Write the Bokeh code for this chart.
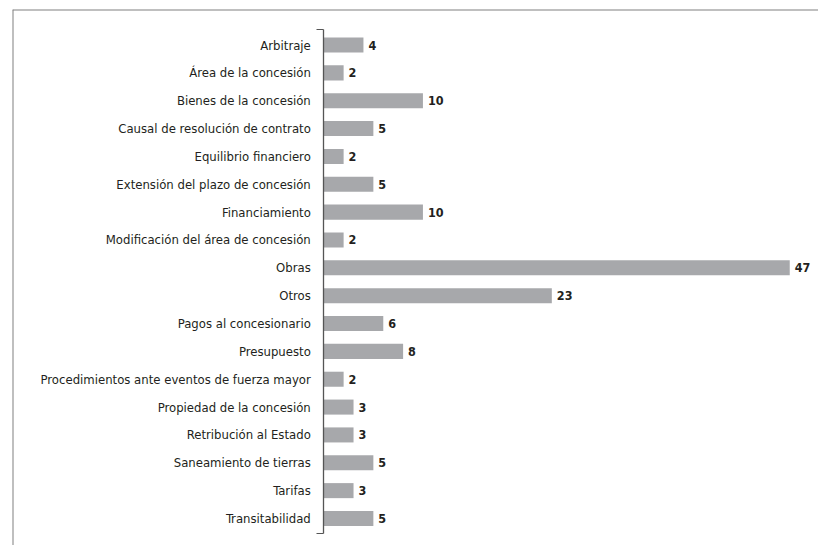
from bokeh.plotting import figure
from bokeh.models import ColumnDataSource, Range1d, Span, FixedTicker
from bokeh.embed import file_html
from bokeh.resources import INLINE
from bokeh.core.properties import value

categories = [
    "Arbitraje",
    "Área de la concesión",
    "Bienes de la concesión",
    "Causal de resolución de contrato",
    "Equilibrio financiero",
    "Extensión del plazo de concesión",
    "Financiamiento",
    "Modificación del área de concesión",
    "Obras",
    "Otros",
    "Pagos al concesionario",
    "Presupuesto",
    "Procedimientos ante eventos de fuerza mayor",
    "Propiedad de la concesión",
    "Retribución al Estado",
    "Saneamiento de tierras",
    "Tarifas",
    "Transitabilidad",
]
counts = [4, 2, 10, 5, 2, 5, 10, 2, 47, 23, 6, 8, 2, 3, 3, 5, 3, 5]

FONT = "'DejaVu Sans Condensed', 'Liberation Sans', sans-serif"

pos = list(range(len(categories)))
src = ColumnDataSource(dict(y=pos, v=counts, lab=[str(c) for c in counts]))

W, H = 818, 545
p = figure(width=W, height=H, output_backend="svg", toolbar_location=None,
           x_range=Range1d(-31.4, 49.9), y_range=Range1d(17.97, -1.275),
           min_border_left=12, min_border_top=9, min_border_right=0, min_border_bottom=0)
p.outline_line_color = None
p.xgrid.visible = False
p.ygrid.visible = False
p.xaxis.visible = False

p.hbar(y="y", left=0, right="v", height=0.54, source=src,
       fill_color="#a7a8ab", line_color=None)
p.text(x="v", y="y", text="lab", source=src, x_offset=5,
       text_font=value(FONT), text_font_style="bold",
       text_font_size="12.5px", text_color="#231f20", text_baseline="middle")

ax = p.yaxis[0]
ax.fixed_location = 0
n = len(categories)
ax.bounds = (-0.55, n - 1 + 0.55)
ax.ticker = FixedTicker(ticks=pos, minor_ticks=[-0.55, n - 1 + 0.55])
ax.major_label_overrides = {i: c for i, c in enumerate(categories)}
ax.major_tick_out = 0
ax.major_tick_in = 0
ax.minor_tick_out = 7
ax.minor_tick_in = 0
ax.minor_tick_line_color = "#555555"
ax.axis_line_color = "#555555"
ax.axis_line_width = 1.3
ax.major_label_standoff = 6
ax.major_label_text_font = FONT
ax.major_label_text_font_size = "13px"
ax.major_label_text_color = "#231f20"

p.add_layout(Span(location=-31.4, dimension="height", line_color="#808080", line_width=2))
p.add_layout(Span(location=-1.275, dimension="width", line_color="#808080", line_width=2))

open("out.html", "w").write(file_html(p, INLINE))
